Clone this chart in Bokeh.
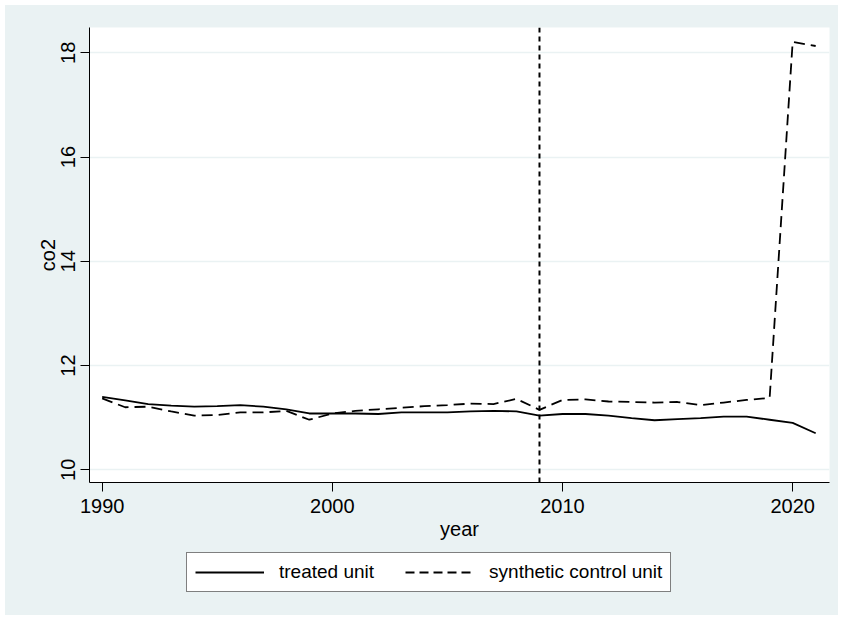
from bokeh.plotting import figure
from bokeh.layouts import column
from bokeh.models import Range1d, FixedTicker, Span, Legend, LegendItem, ColumnDataSource
from bokeh.embed import file_html
from bokeh.resources import INLINE

years = [1990, 1991, 1992, 1993, 1994, 1995, 1996, 1997, 1998, 1999,
         2000, 2001, 2002, 2003, 2004, 2005, 2006, 2007, 2008, 2009,
         2010, 2011, 2012, 2013, 2014, 2015, 2016, 2017, 2018, 2019,
         2020, 2021]
treated = [11.40, 11.33, 11.26, 11.23, 11.21, 11.22, 11.24, 11.21, 11.16, 11.08,
           11.08, 11.08, 11.07, 11.10, 11.10, 11.10, 11.12, 11.13, 11.12, 11.04,
           11.07, 11.07, 11.04, 10.99, 10.95, 10.97, 10.99, 11.02, 11.02, 10.96,
           10.90, 10.70]
synthetic = [11.37, 11.20, 11.21, 11.12, 11.04, 11.05, 11.10, 11.10, 11.13, 10.96,
             11.08, 11.13, 11.16, 11.19, 11.22, 11.24, 11.27, 11.26, 11.36, 11.15,
             11.34, 11.35, 11.31, 11.30, 11.29, 11.30, 11.24, 11.29, 11.34, 11.38,
             18.21, 18.13]
x_ticks = [1990, 2000, 2010, 2020]
y_ticks = [10, 12, 14, 16, 18]
treatment_year = 2009
series_names = ["treated unit", "synthetic control unit"]

BG = "#eaf2f3"
FONT = "Liberation Sans"
DASH = "11 6"

src = ColumnDataSource(dict(year=years, treated=treated, synthetic=synthetic))

p = figure(width=833, height=541, output_backend="svg", toolbar_location=None,
           x_range=Range1d(1989.45, 2021.60), y_range=Range1d(9.756, 18.485),
           min_border_left=84, min_border_right=9, min_border_top=22, min_border_bottom=64)
p.background_fill_color = "white"
p.border_fill_color = BG
p.outline_line_color = None

p.line("year", "treated", source=src, line_color="black", line_width=1.8)
p.line("year", "synthetic", source=src, line_color="black", line_width=1.8, line_dash=DASH)

p.add_layout(Span(location=treatment_year, dimension="height", line_color="black",
                  line_width=2, line_dash="5 4"))

for ax in (p.xaxis[0], p.yaxis[0]):
    ax.axis_line_color = "black"
    ax.axis_line_width = 1
    ax.major_tick_line_color = "black"
    ax.major_tick_in = 0
    ax.major_tick_out = 9
    ax.minor_tick_line_color = None
    ax.major_label_text_font = FONT
    ax.major_label_text_font_size = "20px"
    ax.major_label_text_color = "black"
    ax.axis_label_text_font = FONT
    ax.axis_label_text_font_size = "20px"
    ax.axis_label_text_font_style = "normal"
    ax.axis_label_text_color = "black"

p.xaxis[0].ticker = FixedTicker(ticks=x_ticks)
p.yaxis[0].ticker = FixedTicker(ticks=y_ticks)
p.xaxis[0].axis_label = "year"
p.yaxis[0].axis_label = "co2"
p.yaxis[0].major_label_orientation = "vertical"
p.xaxis[0].major_label_standoff = 7
p.yaxis[0].major_label_standoff = 5
p.xaxis[0].axis_label_standoff = 2
p.yaxis[0].axis_label_standoff = 0

p.xgrid.grid_line_color = None
p.ygrid.grid_line_color = BG
p.ygrid.grid_line_width = 1.5

# legend strip below the chart (its lines use the same data, outside its visible range)
q = figure(width=833, height=69, output_backend="svg", toolbar_location=None,
           x_range=Range1d(0, 1), y_range=Range1d(0, 1),
           x_axis_type=None, y_axis_type=None, min_border=0)
q.background_fill_color = BG
q.border_fill_color = BG
q.outline_line_color = None
q.xgrid.grid_line_color = None
q.ygrid.grid_line_color = None
l1 = q.line("year", "treated", source=src, line_color="black", line_width=1.8)
l2 = q.line("year", "synthetic", source=src, line_color="black", line_width=1.8, line_dash="9 5")

legend = Legend(items=[LegendItem(label=series_names[0], renderers=[l1]),
                       LegendItem(label=series_names[1], renderers=[l2])],
                orientation="horizontal", location=(97, 23))
legend.label_text_font = FONT
legend.label_text_font_size = "19px"
legend.label_text_color = "black"
legend.glyph_width = 69
legend.glyph_height = 20
legend.label_standoff = 15
legend.spacing = 31
legend.padding = 8
legend.margin = 0
legend.border_line_color = "black"
legend.border_line_width = 1
legend.background_fill_color = "white"
legend.background_fill_alpha = 1
q.add_layout(legend, "center")

layout = column(p, q, spacing=0, styles={"background-color": BG, "margin-left": "5px", "margin-top": "5px"})
open("out.html", "w").write(file_html(layout, INLINE))
